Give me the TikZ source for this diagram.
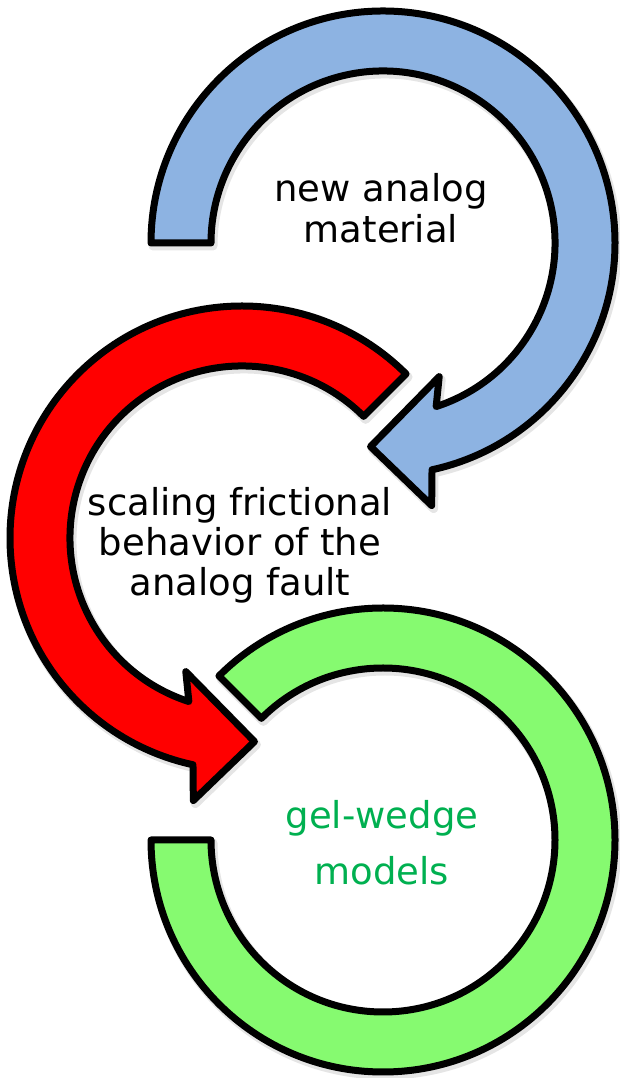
\documentclass[tikz,border=0pt]{standalone}
\usepackage{fontspec}
\setmainfont{DejaVu Sans}
\definecolor{bluefill}{RGB}{141,179,226}
\definecolor{redfill}{RGB}{255,0,0}
\definecolor{greenfill}{RGB}{134,250,112}
\definecolor{greentext}{RGB}{0,176,80}
\newcommand{\bluearrowpath}{(180:232) arc[start angle=180,end angle=-77.8,radius=232] -- (-79.5:267) -- (-93.5:204) -- (-67.2:145) -- (-72:172) arc[start angle=-72,end angle=180,radius=172] -- cycle}
\newcommand{\redarrowpath}{(45:232) arc[start angle=45,end angle=257.8,radius=232] -- (259.5:267) -- (273.5:204) -- (247.2:145) -- (252:172) arc[start angle=252,end angle=45,radius=172] -- cycle}
\newcommand{\greenarcpath}{(180:232) arc[start angle=180,end angle=495,radius=232] -- (135:172) arc[start angle=135,end angle=-180,radius=172] -- cycle}
\begin{document}
\begin{tikzpicture}[x=1pt,y=1pt,
  band/.style={draw=black, line width=7pt, line join=round},
  softshadow/.style={fill=black, draw=black, line width=9pt, line join=round, opacity=0.10},
  lbl/.style={align=center, inner sep=0pt}]
\useasboundingbox (0,0) rectangle (619,1078);
\coordinate (cb) at (383,835);
\coordinate (cr) at (242,540);
\coordinate (cg) at (383,238);
% blue arrow
\begin{scope}[shift={(cb)}]
  \path[softshadow, shift={(2,-3)}] \bluearrowpath;
  \path[band, fill=bluefill] \bluearrowpath;
\end{scope}
% red arrow
\begin{scope}[shift={(cr)}]
  \path[softshadow, shift={(2,-3)}] \redarrowpath;
  \path[band, fill=redfill] \redarrowpath;
\end{scope}
% green arc
\begin{scope}[shift={(cg)}]
  \path[softshadow, shift={(2,-3)}] \greenarcpath;
  \path[band, fill=greenfill] \greenarcpath;
\end{scope}
\node[lbl, font=\fontsize{37}{41}\selectfont] (tb) at (381,869.5) {new analog\\material};
\node[lbl, font=\fontsize{37}{40}\selectfont] (tr) at (240,532.5) {scaling frictional\\behavior of the\\analog fault};
\node[lbl, font=\fontsize{37}{56}\selectfont, text=greentext] (tg) at (382,235) {gel-wedge\\models};
\end{tikzpicture}
\end{document}
